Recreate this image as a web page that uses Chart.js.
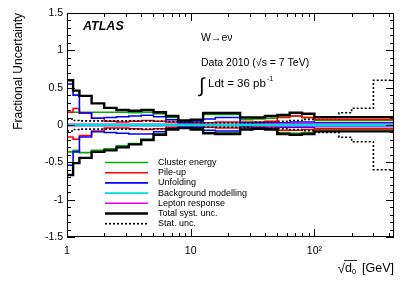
<!DOCTYPE html>
<html>
<head>
<meta charset="utf-8">
<script src="https://cdn.jsdelivr.net/npm/chart.js@4/dist/chart.umd.min.js"></script>
<style>
  html, body { margin: 0; padding: 0; background: #fff; }
  #wrap { width: 415px; height: 281px; }
</style>
</head>
<body>
<div id="wrap"><canvas id="c" width="415" height="281"></canvas></div>
<script>
// bin edges in sqrt(d0) [GeV]
const edges = [1, 1.12, 1.26, 1.58, 2, 2.51, 3.16, 3.98, 5.01, 6.31, 7.94, 10, 12.6, 15.8, 20, 25.1, 31.6, 39.8, 50.1, 63.1, 79.4, 100, 126, 158, 200, 300, 440];

const clusterUp   = [0.17, 0.17, 0.17, 0.17, 0.17, 0.17, 0.165, 0.17, 0.15, 0.10, 0.04, 0.06, 0.14, 0.14, 0.14, 0.07, 0.08, 0.09, 0.11, 0.12, 0.10, 0.06, 0.06, 0.06, 0.06, 0.06];
const clusterDown = [-0.36, -0.34, -0.37, -0.34, -0.32, -0.28, -0.25, -0.19, -0.12, -0.05, -0.03, -0.05, -0.10, -0.10, -0.10, -0.04, -0.04, -0.05, -0.10, -0.11, -0.10, -0.06, -0.06, -0.06, -0.06, -0.06];
const pileupUp    = [0.17, 0.22, 0.16, 0.09, 0.05, 0.04, 0.05, 0.06, 0.05, 0.04, 0.02, 0.02, 0.03, 0.04, 0.04, 0.04, 0.04, 0.05, 0.10, 0.12, 0.10, 0.075, 0.075, 0.075, 0.075, 0.075];
const pileupDown  = [-0.16, -0.19, -0.14, -0.08, -0.04, -0.04, -0.05, -0.06, -0.05, -0.03, -0.02, -0.02, -0.03, -0.04, -0.04, -0.03, -0.03, -0.04, -0.07, -0.07, -0.06, -0.05, -0.05, -0.05, -0.05, -0.05];
const unfoldUp    = [0.55, 0.40, 0.16, 0.09, 0.10, 0.11, 0.12, 0.13, 0.11, 0.07, 0.03, 0.04, 0.08, 0.10, 0.10, 0.03, 0.03, 0.03, 0.03, 0.04, 0.04, 0.03, 0.03, 0.03, 0.03, 0.03];
const unfoldDown  = [-0.54, -0.36, -0.16, -0.09, -0.10, -0.11, -0.12, -0.12, -0.09, -0.05, -0.02, -0.03, -0.07, -0.08, -0.08, -0.02, -0.02, -0.02, -0.03, -0.03, -0.03, -0.02, -0.02, -0.02, -0.02, -0.02];
const bkgUp       = [0.005, 0.005, 0.005, 0.005, 0.005, 0.005, 0.005, 0.005, 0.005, 0.005, 0.005, 0.005, 0.005, 0.005, 0.005, 0.005, 0.005, 0.005, 0.005, 0.005, 0.005, 0.01, 0.01, 0.01, 0.01, 0.01];
const bkgDown     = [-0.005, -0.005, -0.005, -0.005, -0.005, -0.005, -0.005, -0.005, -0.005, -0.005, -0.005, -0.005, -0.005, -0.005, -0.005, -0.005, -0.005, -0.005, -0.005, -0.005, -0.005, -0.01, -0.01, -0.01, -0.01, -0.01];
const leptonUp    = [0.01, 0.01, 0.01, 0.01, 0.01, 0.01, 0.01, 0.01, 0.01, 0.01, 0.01, 0.01, 0.01, 0.01, 0.01, 0.01, 0.015, 0.02, 0.02, 0.02, 0.02, 0.02, 0.02, 0.02, 0.02, 0.02];
const leptonDown  = [-0.01, -0.01, -0.01, -0.01, -0.01, -0.01, -0.01, -0.01, -0.01, -0.01, -0.01, -0.01, -0.01, -0.01, -0.01, -0.01, -0.015, -0.02, -0.02, -0.02, -0.02, -0.02, -0.02, -0.02, -0.02, -0.02];
const totalUp     = [0.60, 0.46, 0.39, 0.29, 0.23, 0.20, 0.19, 0.20, 0.17, 0.12, 0.06, 0.07, 0.16, 0.16, 0.16, 0.10, 0.10, 0.12, 0.135, 0.165, 0.15, 0.105, 0.105, 0.105, 0.105, 0.105];
const totalDown   = [-0.67, -0.51, -0.44, -0.36, -0.34, -0.30, -0.26, -0.20, -0.13, -0.06, -0.04, -0.06, -0.11, -0.12, -0.12, -0.06, -0.05, -0.06, -0.12, -0.13, -0.12, -0.085, -0.085, -0.085, -0.085, -0.085];
const statUnc     = [0.08, 0.06, 0.055, 0.055, 0.055, 0.055, 0.055, 0.055, 0.05, 0.045, 0.04, 0.035, 0.03, 0.03, 0.03, 0.03, 0.035, 0.04, 0.05, 0.06, 0.075, 0.10, 0.10, 0.165, 0.225, 0.60];

const xMajor = [1, 10, 100];
const xMinor = [2, 3, 4, 5, 6, 7, 8, 9, 20, 30, 40, 50, 60, 70, 80, 90, 200, 300, 400];
const xLabels = { 1: '1', 10: '10', 100: '10\u00B2' };

function steps(vals, sign) {
  const pts = vals.map((v, i) => ({ x: edges[i], y: sign * v }));
  pts.push({ x: edges[edges.length - 1], y: sign * vals[vals.length - 1] });
  return pts;
}

const series = [
  { label: 'Stat. unc.', up: statUnc, down: statUnc, neg: true, color: '#000', width: 1.6, dash: [2, 2] },
  { label: 'Background modelling', up: bkgUp, down: bkgDown, color: '#00dcdc', width: 1.6 },
  { label: 'Lepton response', up: leptonUp, down: leptonDown, color: '#e000e0', width: 1.6 },
  { label: 'Total syst. unc.', up: totalUp, down: totalDown, color: '#000', width: 2.4 },
  { label: 'Unfolding', up: unfoldUp, down: unfoldDown, color: '#0000ff', width: 1.6 },
  { label: 'Pile-up', up: pileupUp, down: pileupDown, color: '#ff0000', width: 1.6 },
  { label: 'Cluster energy', up: clusterUp, down: clusterDown, color: '#00b000', width: 1.6 }
];
const legendOrder = ['Cluster energy', 'Pile-up', 'Unfolding', 'Background modelling', 'Lepton response', 'Total syst. unc.', 'Stat. unc.'];

const datasets = [];
series.forEach(s => {
  [steps(s.up, 1), steps(s.down, s.neg ? -1 : 1)].forEach((d, k) => {
    datasets.push({
      label: k === 0 ? s.label : '',
      data: d,
      borderColor: s.color,
      borderWidth: s.width,
      borderDash: s.dash || [],
      stepped: 'before',
      pointRadius: 0,
      fill: false,
      tension: 0
    });
  });
});

const FONT = '"Liberation Sans", Arial, Helvetica, sans-serif';

const decor = {
  id: 'decor',
  afterDraw(chart) {
    const { ctx, chartArea: a, scales: { x, y } } = chart;
    ctx.save();
    ctx.strokeStyle = '#000';
    ctx.lineWidth = 1;
    // frame
    ctx.strokeRect(a.left + 0.5, a.top + 0.5, a.right - a.left - 1, a.bottom - a.top - 1);
    // inward ticks
    ctx.beginPath();
    for (let i = -15; i <= 15; i++) {
      const py = Math.round(y.getPixelForValue(i / 10)) + 0.5;
      const len = (i % 5 === 0) ? 8 : 4;
      ctx.moveTo(a.left, py); ctx.lineTo(a.left + len, py);
      ctx.moveTo(a.right, py); ctx.lineTo(a.right - len, py);
    }
    xMajor.concat(xMinor).forEach(v => {
      const px = Math.round(x.getPixelForValue(v)) + 0.5;
      const len = xMajor.includes(v) ? 8 : 4;
      ctx.moveTo(px, a.bottom); ctx.lineTo(px, a.bottom - len);
      ctx.moveTo(px, a.top); ctx.lineTo(px, a.top + len);
    });
    ctx.stroke();

    // legend
    ctx.textBaseline = 'middle';
    ctx.textAlign = 'left';
    ctx.font = '9px ' + FONT;
    legendOrder.forEach((name, i) => {
      const s = series.find(t => t.label === name);
      const ly = 162.5 + i * 10.2;
      ctx.beginPath();
      ctx.strokeStyle = s.color;
      ctx.lineWidth = s.width;
      ctx.setLineDash(s.dash || []);
      ctx.moveTo(105, ly); ctx.lineTo(148, ly);
      ctx.stroke();
      ctx.setLineDash([]);
      ctx.fillStyle = '#000';
      ctx.fillText(name, 158, ly);
    });

    // labels
    ctx.textBaseline = 'alphabetic';
    ctx.fillStyle = '#000';
    ctx.font = 'bold italic 12.5px ' + FONT;
    ctx.fillText('ATLAS', 83, 29.5);
    ctx.font = '10.5px ' + FONT;
    ctx.fillText('W\u2192e\u03BD', 201, 41);
    ctx.fillText('Data 2010 (\u221As = 7 TeV)', 201, 66);
    ctx.font = '20px ' + FONT;
    ctx.fillText('\u222B', 199, 92);
    ctx.font = '11.5px ' + FONT;
    const lt = 'Ldt = 36 pb';
    ctx.fillText(lt, 208, 87);
    const lw = ctx.measureText(lt).width;
    ctx.font = '7px ' + FONT;
    ctx.fillText('-1', 208 + lw + 1, 81);

    // x title
    ctx.font = '12.5px ' + FONT;
    ctx.textAlign = 'right';
    ctx.fillText('[GeV]', 394, 272);
    ctx.fillText('d', 352, 272);
    ctx.font = '7.5px ' + FONT;
    ctx.textAlign = 'left';
    ctx.fillText('0', 352, 274);
    ctx.font = '13px ' + FONT;
    ctx.textAlign = 'right';
    ctx.fillText('\u221A', 345, 273);
    ctx.beginPath();
    ctx.lineWidth = 0.8;
    ctx.moveTo(344, 260.5); ctx.lineTo(357, 260.5);
    ctx.stroke();

    // y title
    ctx.translate(19, 13);
    ctx.rotate(-Math.PI / 2);
    ctx.font = '12px ' + FONT;
    ctx.textAlign = 'right';
    ctx.textBaseline = 'middle';
    ctx.fillText('Fractional Uncertainty', 0, 0);
    ctx.restore();
  }
};

new Chart(document.getElementById('c'), {
  type: 'line',
  data: { datasets },
  options: {
    responsive: false,
    animation: false,
    layout: { padding: { left: 0, right: 21, top: 13, bottom: 0 } },
    plugins: { legend: { display: false }, tooltip: { enabled: false } },
    scales: {
      x: {
        type: 'logarithmic',
        min: 1, max: 440,
        afterBuildTicks: s => { s.ticks = xMajor.concat(xMinor).sort((p, q) => p - q).map(v => ({ value: v })); },
        afterFit: s => { s.height = 44; },
        grid: { display: false, drawTicks: false },
        border: { display: false },
        ticks: {
          autoSkip: false, maxRotation: 0, padding: 8,
          color: '#000', font: { size: 10.5, family: FONT },
          callback: v => xLabels[v] || ''
        }
      },
      y: {
        type: 'linear',
        min: -1.5, max: 1.5,
        afterFit: s => { s.width = 67; },
        grid: { display: false, drawTicks: false },
        border: { display: false },
        ticks: {
          stepSize: 0.5, padding: 4,
          color: '#000', font: { size: 10.5, family: FONT },
          callback: v => String(Math.round(v * 10) / 10)
        }
      }
    }
  },
  plugins: [decor]
});
</script>
</body>
</html>
